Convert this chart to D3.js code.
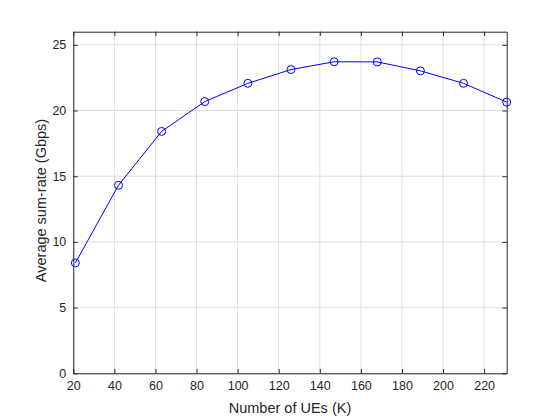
<!DOCTYPE html>
<html>
<head>
<meta charset="utf-8">
<script src="https://cdn.jsdelivr.net/npm/d3@7"></script>
<style>
body { margin: 0; background: #fff; }
svg text { font-family: "Liberation Sans", Arial, sans-serif; fill: #262626; }
</style>
</head>
<body>
<div id="chart"></div>
<script>
// number of UEs and the average sum-rate
var users = [21, 42, 63, 84, 105, 126, 147, 168, 189, 210, 231];
var sumRate = [8.40, 14.31, 18.41, 20.68, 22.07, 23.12, 23.71, 23.70, 23.02, 22.07, 20.64];
var xTicks = [20, 40, 60, 80, 100, 120, 140, 160, 180, 200, 220];
var yTicks = [0, 5, 10, 15, 20, 25];

var width = 560, height = 420;
var margin = {left: 73.3, right: 53.3, top: 31.7, bottom: 46.7};
var w = width - margin.left - margin.right,
    h = height - margin.top - margin.bottom;

var x = d3.scaleLinear().domain([20, 231]).range([0, w]),
    y = d3.scaleLinear().domain([0, 26]).range([h, 0]);

var svg = d3.select('#chart').append('svg')
	.attr('width', width)
	.attr('height', height);

var g = svg.append('g')
	.attr('transform', 'translate(' + margin.left + ',' + margin.top + ')');

// grid
g.selectAll('.xgrid').data(xTicks).enter().append('line')
	.attr('x1', function(d) { return x(d); })
	.attr('x2', function(d) { return x(d); })
	.attr('y1', 0).attr('y2', h)
	.attr('stroke', '#dfdfdf').attr('stroke-width', 1);
g.selectAll('.ygrid').data(yTicks).enter().append('line')
	.attr('y1', function(d) { return y(d); })
	.attr('y2', function(d) { return y(d); })
	.attr('x1', 0).attr('x2', w)
	.attr('stroke', '#dfdfdf').attr('stroke-width', 1);

// axes, ticks pointing in
var tl = 4.3;
var xb = g.append('g')
	.attr('transform', 'translate(0,' + h + ')')
	.call(d3.axisBottom(x).tickValues(xTicks).tickSizeInner(-tl).tickSizeOuter(0).tickPadding(8));
var xt = g.append('g')
	.call(d3.axisTop(x).tickValues(xTicks).tickSizeInner(-tl).tickSizeOuter(0).tickFormat(''));
var yl = g.append('g')
	.call(d3.axisLeft(y).tickValues(yTicks).tickSizeInner(-tl).tickSizeOuter(0).tickPadding(7));
var yr = g.append('g')
	.attr('transform', 'translate(' + w + ',0)')
	.call(d3.axisRight(y).tickValues(yTicks).tickSizeInner(-tl).tickSizeOuter(0).tickFormat(''));

[xb, xt, yl, yr].forEach(function(a) {
	a.select('.domain').attr('stroke', '#262626');
	a.selectAll('.tick line').attr('stroke', '#262626');
	a.selectAll('.tick text')
		.attr('font-size', '12.5px')
		.attr('font-family', '"Liberation Sans", Arial, sans-serif')
		.attr('fill', '#262626');
});

// series
var line = d3.line()
	.x(function(d, i) { return x(users[i]); })
	.y(function(d) { return y(d); });

g.append('path')
	.datum(sumRate)
	.attr('d', line)
	.attr('fill', 'none')
	.attr('stroke', '#0000ff')
	.attr('stroke-width', 1);

g.selectAll('.pt').data(sumRate).enter().append('circle')
	.attr('cx', function(d, i) { return x(users[i]); })
	.attr('cy', function(d) { return y(d); })
	.attr('r', 4)
	.attr('fill', 'none')
	.attr('stroke', '#0000ff')
	.attr('stroke-width', 1);

// labels
svg.append('text')
	.attr('x', margin.left + w / 2)
	.attr('y', 413)
	.attr('text-anchor', 'middle')
	.attr('font-size', '14.5px')
	.text('Number of UEs (K)');

svg.append('text')
	.attr('transform', 'translate(46,' + (margin.top + h / 2 - 2) + ') rotate(-90)')
	.attr('text-anchor', 'middle')
	.attr('font-size', '14.5px')
	.text('Average sum-rate (Gbps)');
</script>
</body>
</html>
